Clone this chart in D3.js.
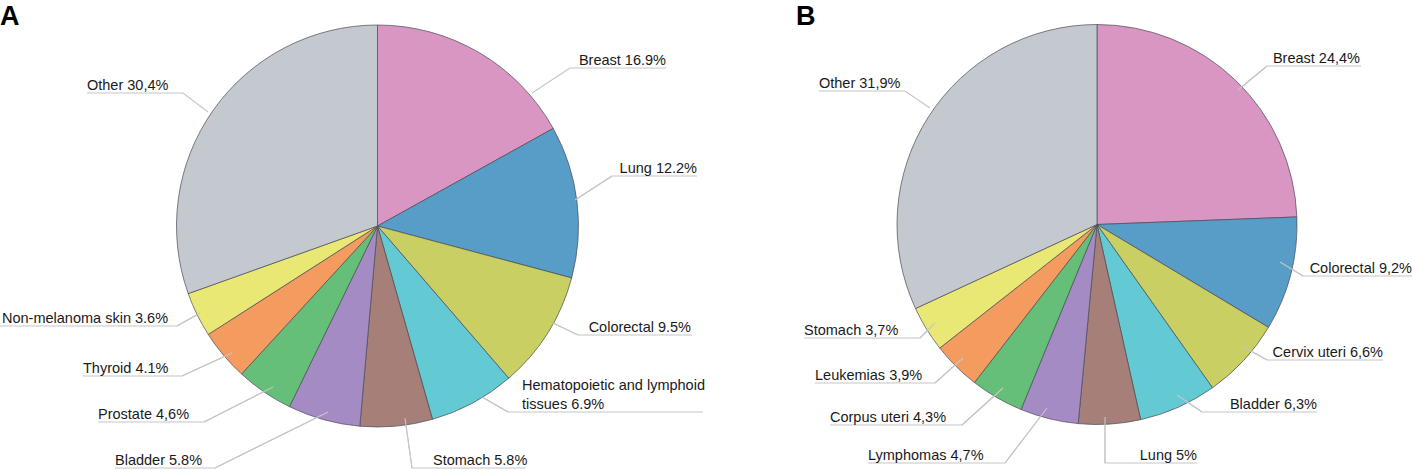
<!DOCTYPE html>
<html><head><meta charset="utf-8">
<script src="https://cdn.jsdelivr.net/npm/d3@7"></script>
<style>body{margin:0;background:#fff}svg{display:block}</style>
</head><body>
<svg id="chart" width="1412" height="470"></svg>
<script>
// ---- data ----
const categoriesA = ["Breast","Lung","Colorectal","Hematopoietic and lymphoid tissues","Stomach","Bladder","Prostate","Thyroid","Non-melanoma skin","Other"];
const valuesA = [16.9,12.2,9.5,6.9,5.8,5.8,4.6,4.1,3.6,30.4];
const labelsA = ["Breast 16.9%","Lung 12.2%","Colorectal 9.5%","Hematopoietic and lymphoid|tissues 6.9%","Stomach 5.8%","Bladder 5.8%","Prostate 4,6%","Thyroid 4.1%","Non-melanoma skin 3.6%","Other 30,4%"];

const categoriesB = ["Breast","Colorectal","Cervix uteri","Bladder","Lung","Lymphomas","Corpus uteri","Leukemias","Stomach","Other"];
const valuesB = [24.4,9.2,6.6,6.3,5,4.7,4.3,3.9,3.7,31.9];
const labelsB = ["Breast 24,4%","Colorectal 9,2%","Cervix uteri 6,6%","Bladder 6,3%","Lung 5%","Lymphomas 4,7%","Corpus uteri 4,3%","Leukemias 3,9%","Stomach 3,7%","Other 31,9%"];

const sliceColors = ["#d996c3","#579dc7","#c9cf63","#63c9d3","#a57f78","#a58bc4","#66bf78","#f49c5f","#e9e874","#c4c8cf"];

// ---- layout (annotation placement) ----
// [anchorX, anchorY, elbowX, elbowY, lineOtherEndX, textX, textAnchor]
const layoutA = [
  [532,93, 570,68, 666, 666,"end"],
  [575,200, 612,176, 697, 697,"end"],
  [553,323, 578,335, 692, 691,"end"],
  [482,397, 508,412, 703, 522,"start"],
  [405,418, 412,468, 526, 433,"start"],
  [328,412, 215,468, 115, 115,"start"],
  [273,387, 204,422, 98, 98,"start"],
  [232,353, 182,376, 83, 83,"start"],
  [200,313, 177,326, 0, 2,"start"],
  [208,112, 183,93, 87, 87,"start"]
];
const layoutB = [
  [1238,90, 1267,66, 1361, 1360,"end"],
  [1280,262, 1303,276, 1412, 1412,"end"],
  [1242,346, 1267,360, 1383, 1383,"end"],
  [1177,395, 1202,412, 1317, 1317,"end"],
  [1105,417, 1105,463, 1197, 1197,"end"],
  [1047,408, 1005,463, 868, 868,"start"],
  [1003,388, 962,425, 830, 830,"start"],
  [963,358, 935,383, 815, 815,"start"],
  [935,323, 920,338, 804, 804,"start"],
  [930,108, 905,91, 819, 819,"start"]
];

const svg = d3.select("#chart");

function drawPie(cx, cy, r, values, labels, layout, letter, letterX) {
  const g = svg.append("g");
  const pie = d3.pie().sort(null).value(d => d);
  const arc = d3.arc().innerRadius(0).outerRadius(r);
  const arcs = pie(values);
  const color = d3.scaleOrdinal().domain(d3.range(values.length)).range(sliceColors);

  // leader lines
  const lg = g.append("g");
  layout.forEach((L, i) => {
    lg.append("polyline")
      .attr("points", `${L[0]},${L[1]} ${L[2]},${L[3]} ${L[4]},${L[3]}`)
      .attr("fill","none").attr("stroke","#c6c6c6").attr("stroke-width",1.1);
  });

  const pg = g.append("g").attr("transform", `translate(${cx},${cy})`);
  pg.selectAll("path").data(arcs).join("path")
    .attr("d", arc)
    .attr("fill", (d,i) => color(i))
    .attr("stroke", "#4a4a55").attr("stroke-width", 0.7).attr("stroke-linejoin","round");

  // leader line tips over slices
  layout.forEach((L, i) => {
    const inside = Math.hypot(L[0]-cx, L[1]-cy) < r;
    if (inside) {
      // short segment from pie edge to anchor
      const ang = Math.atan2(L[1]-cy, L[0]-cx);
      const ex = cx + Math.cos(ang)*r, ey = cy + Math.sin(ang)*r;
      g.append("line").attr("x1",L[0]).attr("y1",L[1]).attr("x2",L[2]).attr("y2",L[3])
        .attr("stroke","#c6c6c6").attr("stroke-width",1.1);
    }
  });

  // labels
  labels.forEach((t, i) => {
    const L = layout[i];
    const lines = t.split("|");
    const baseY = L[3] - 3.5;
    lines.forEach((ln, k) => {
      g.append("text")
        .attr("x", L[5]).attr("y", baseY - (lines.length-1-k)*19)
        .attr("text-anchor", L[6])
        .attr("font-family","Liberation Sans, Arial, sans-serif")
        .attr("font-size", 14.5).attr("fill","#1a1a1a")
        .text(ln);
    });
  });

  svg.append("text").attr("x", letterX).attr("y", 25)
    .attr("font-family","Liberation Sans, Arial, sans-serif")
    .attr("font-weight","bold").attr("font-size", 27).attr("fill","#000")
    .text(letter);
}

drawPie(377.5, 226, 201, valuesA, labelsA, layoutA, "A", 0);
drawPie(1097, 224.5, 200, valuesB, labelsB, layoutB, "B", 796);
</script>
</body></html>
